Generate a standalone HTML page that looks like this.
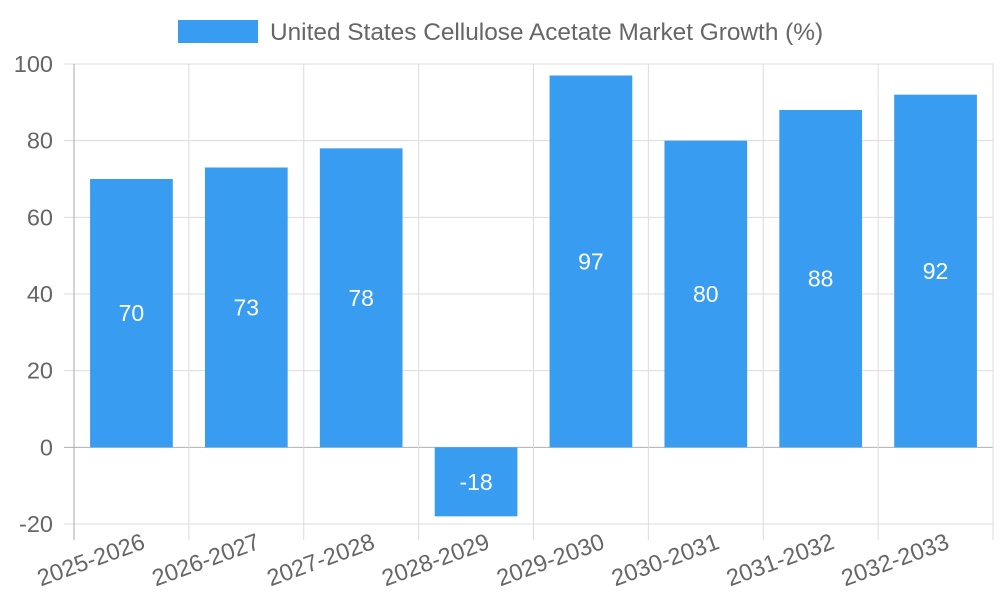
<!DOCTYPE html>
<html><head><meta charset="utf-8"><style>
body{margin:0;background:#fff}
svg text{font-family:"Liberation Sans",sans-serif}
</style></head><body>
<svg id="chart" width="1000" height="600">
<g>
<rect x="178" y="20" width="80" height="23" fill="#389cf0"></rect>
<text x="270" y="40" font-size="24.4" fill="#666">United States Cellulose Acetate Market Growth (%)</text>
</g>
<g id="grid"></g>
<g id="bars"></g>
<g id="labels"></g>
</svg>
<script>
const categories=["2025-2026","2026-2027","2027-2028","2028-2029","2029-2030","2030-2031","2031-2032","2032-2033"];
const values=[70,73,78,-18,97,80,88,92];
const yTicks=[-20,0,20,40,60,80,100];
const NS="http://www.w3.org/2000/svg";
const L=74,R=993,T=64,B=524,yMin=-20,yMax=100;
const y=v=>T+(yMax-v)/(yMax-yMin)*(B-T);
const bw=(R-L)/categories.length;
const x=i=>L+i*bw;
function mk(tag,attrs,parent,txt){const e=document.createElementNS(NS,tag);for(const k in attrs)e.setAttribute(k,attrs[k]);if(txt!==undefined)e.textContent=txt;document.getElementById(parent).appendChild(e);return e;}
yTicks.forEach(t=>{
 const g=mk('line',{x1:L-10,x2:R,y1:y(t),y2:y(t),stroke:t===0?'#b0b0b0':'#dcdcdc','stroke-width':1},'grid');
 
 
 const tx=mk('text',{x:53,y:y(t)+8,'text-anchor':'end','font-size':23.5,fill:'#666'},'labels',t);
 
 
});
for(let i=0;i<=categories.length;i++){
 const g=mk('line',{x1:x(i),x2:x(i),y1:T,y2:B+16,stroke:'#dcdcdc','stroke-width':1},'grid');
 
 
}
const ax=mk('line',{x1:L,x2:L,y1:T,y2:B+16,stroke:'#a8a8a8'},'grid');


categories.forEach((c,i)=>{
 const v=values[i];
 const cx=x(i)+bw/2,w=bw*0.72;
 const top=Math.min(y(v),y(0)),h=Math.abs(y(v)-y(0));
 const r=mk('rect',{x:cx-w/2,y:top,width:w,height:h,fill:'#389cf0'},'bars');
 
 
 const vl=mk('text',{x:cx,y:top+h/2+8,'text-anchor':'middle','font-size':23,fill:'#fff'},'bars',v);
 
 
 const lx=cx+15,ly=B+24;
 const xl=mk('text',{x:lx,y:ly,'text-anchor':'end','font-size':23.5,fill:'#666',transform:`rotate(-20 ${lx} ${ly})`},'labels',c);
 
 
});
</script>
</body></html>
